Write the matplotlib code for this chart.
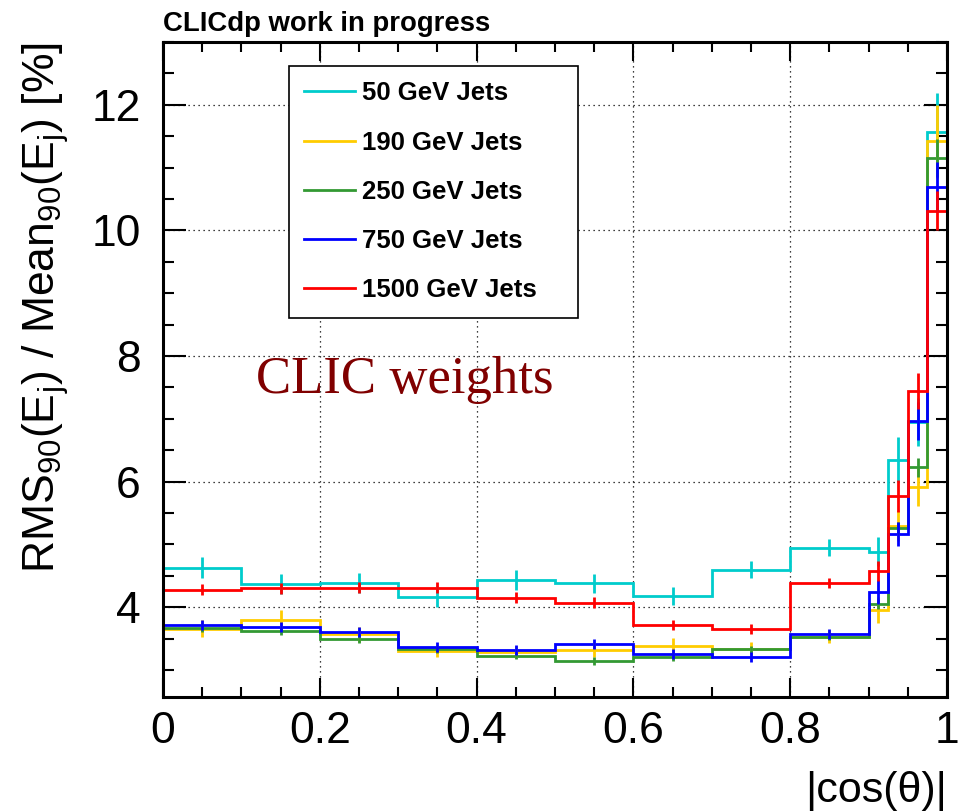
import matplotlib
matplotlib.use("Agg")
import matplotlib.pyplot as plt
from matplotlib.lines import Line2D
from matplotlib.ticker import MultipleLocator
import numpy as np

plt.rcParams["font.family"] = ["Liberation Sans", "DejaVu Sans"]
plt.rcParams["mathtext.fontset"] = "custom"
plt.rcParams["mathtext.rm"] = "Liberation Sans"
plt.rcParams["mathtext.it"] = "Liberation Sans:italic"

# |cos(theta)| bin edges
EDGES = [0.0, 0.1, 0.2, 0.3, 0.4, 0.5, 0.6, 0.7, 0.8, 0.9, 0.925, 0.95, 0.975, 1.0]

JET_LABELS = ["50 GeV Jets", "190 GeV Jets", "250 GeV Jets", "750 GeV Jets", "1500 GeV Jets"]
JET_COLORS = ["#00cccc", "#ffcc00", "#339933", "#0000ff", "#ff0000"]

# RMS90 / Mean90 [%] per bin
RES_50 = [4.63, 4.37, 4.38, 4.17, 4.43, 4.38, 4.18, 4.60, 4.95, 4.88, 6.35, 6.95, 11.56]
RES_190 = [3.66, 3.79, 3.57, 3.30, 3.29, 3.32, 3.39, 3.34, 3.53, 3.96, 5.30, 5.91, 11.42]
RES_250 = [3.67, 3.62, 3.49, 3.33, 3.23, 3.14, 3.21, 3.33, 3.53, 4.05, 5.26, 6.23, 11.15]
RES_750 = [3.71, 3.69, 3.60, 3.36, 3.32, 3.41, 3.25, 3.20, 3.58, 4.24, 5.16, 6.97, 10.69]
RES_1500 = [4.28, 4.30, 4.31, 4.31, 4.15, 4.07, 3.71, 3.65, 4.38, 4.58, 5.77, 7.44, 10.31]

ERR_50 = [0.17, 0.16, 0.16, 0.16, 0.16, 0.15, 0.14, 0.13, 0.14, 0.23, 0.36, 0.38, 0.63]
ERR_190 = [0.14, 0.16, 0.12, 0.10, 0.10, 0.12, 0.12, 0.10, 0.10, 0.21, 0.25, 0.30, 0.58]
ERR_250 = [0.06, 0.06, 0.06, 0.06, 0.06, 0.06, 0.06, 0.06, 0.06, 0.08, 0.10, 0.15, 0.30]
ERR_750 = [0.08, 0.08, 0.08, 0.08, 0.08, 0.08, 0.08, 0.08, 0.08, 0.19, 0.19, 0.30, 0.40]
ERR_1500 = [0.09, 0.09, 0.09, 0.09, 0.09, 0.09, 0.08, 0.08, 0.08, 0.16, 0.25, 0.29, 0.31]

X_TICKS = [0, 0.2, 0.4, 0.6, 0.8, 1.0]
X_TICK_LABELS = ["0", "0.2", "0.4", "0.6", "0.8", "1"]
Y_TICKS = [4, 6, 8, 10, 12]
Y_TICK_LABELS = ["4", "6", "8", "10", "12"]

W, H = 967, 811

fig = plt.figure(figsize=(W / 100, H / 100), dpi=100)
ax = fig.add_axes([163 / W, 1 - 697 / H, 784 / W, 655 / H])

edges = np.array(EDGES)
centers = 0.5 * (edges[:-1] + edges[1:])
series = [RES_50, RES_190, RES_250, RES_750, RES_1500]
errors = [ERR_50, ERR_190, ERR_250, ERR_750, ERR_1500]

for vals, errs, color in zip(series, errors, JET_COLORS):
    ax.stairs(vals, edges, baseline=0, color=color, linewidth=2)
    ax.errorbar(centers, vals, yerr=errs, fmt="none", ecolor=color,
                elinewidth=2, capsize=0)

ax.set_xlim(0, 1)
ax.set_ylim(2.57, 13.0)

ax.set_xticks(X_TICKS, X_TICK_LABELS)
ax.set_yticks(Y_TICKS, Y_TICK_LABELS)
ax.xaxis.set_minor_locator(MultipleLocator(0.05))
ax.yaxis.set_minor_locator(MultipleLocator(0.5))
ax.tick_params(which="both", direction="in", top=True, right=True, width=1.5,
               labelsize=32)
ax.tick_params(axis="x", which="major", length=14, pad=10)
ax.tick_params(axis="x", which="minor", length=7)
ax.tick_params(axis="y", which="major", length=16.5, pad=16)
ax.tick_params(axis="y", which="minor", length=8)
for sp in ax.spines.values():
    sp.set_linewidth(2.2)

ax.set_axisbelow(True)
ax.grid(True, which="major", color="black", linestyle=(0, (1, 3)), linewidth=0.9)

ax.set_ylabel(r"RMS$_{90}$(E$_{\mathrm{j}}$) / Mean$_{90}$(E$_{\mathrm{j}}$) [%]",
              fontsize=32, loc="top")
ax.yaxis.set_label_coords((55 - 163) / 784, 1.0)
ax.yaxis.label.set_va("baseline")

ax.set_xlabel("|cos(θ)|", fontsize=31, loc="right")
ax.xaxis.set_label_coords(1.0, (697 - 802) / 655)
ax.xaxis.label.set_va("baseline")

handles = [Line2D([], [], color=c, linewidth=2) for c in JET_COLORS]
leg = ax.legend(handles, JET_LABELS, loc="upper left",
                bbox_to_anchor=(289 / W, 1 - 310 / H, 289 / W, 244 / H),
                bbox_transform=fig.transFigure, mode="expand", borderaxespad=0,
                fancybox=False, framealpha=1, edgecolor="black",
                prop={"weight": "bold", "size": 18.5},
                handlelength=1.95, handletextpad=0.3, labelspacing=0.98,
                borderpad=0.6)
leg.get_frame().set_linewidth(1.2)

ax.text((256 - 163) / 784, (697 - 393) / 655, "CLIC weights", transform=ax.transAxes,
        family="Liberation Serif", fontsize=38, color="#800000", va="baseline")

fig.text(163 / W, 1 - 31 / H, "CLICdp work in progress", fontsize=19.8,
         fontweight="bold", va="baseline")

fig.savefig("out.png", dpi=100)
